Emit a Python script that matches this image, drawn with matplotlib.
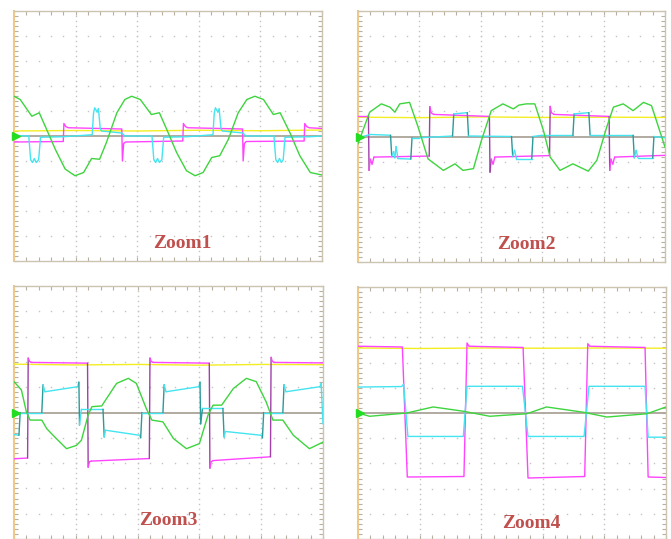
import numpy as np
import matplotlib
matplotlib.use("Agg")
from matplotlib import pyplot as plt
from matplotlib.collections import LineCollection

# scope colours
YEL = "#f2ee22"
MAG = "#ff44ff"
CYA = "#44e4f0"
GRN = "#3ed43e"
MAG_EDGE = "#a040a8"
CYA_EDGE = "#2a9a9a"

# ---- Zoom1 ----
p1_t_green = [0, 0.1, 0.29, 0.41, 0.53, 0.67, 0.83, 0.99, 1.13, 1.26, 1.39, 1.5, 1.67, 1.8, 1.91, 2.05, 2.23, 2.36,
              2.48, 2.64, 2.8, 2.94, 3.07, 3.21, 3.34, 3.48, 3.64, 3.78, 3.91, 4.05, 4.21, 4.32, 4.48, 4.64, 4.81, 5.0]
p1_v_green = [1.59, 1.46, 0.79, 0.93, 0.26, -0.53, -1.32, -1.59, -1.46, -0.9, -0.93, -0.26, 0.93, 1.46, 1.59, 1.46, 0.86, 0.93,
              0.26, -0.66, -1.39, -1.59, -1.46, -0.86, -0.79, -0.13, 0.93, 1.46, 1.59, 1.46, 0.86, 0.93, 0.13, -0.79, -1.46, -1.56]
p1_t_mag = [0, 0.80, 0.81, 0.84, 0.88, 1.75, 1.76, 1.78, 1.81, 2.74, 2.75, 2.78, 2.82, 3.71, 3.72, 3.74, 3.77, 4.71, 4.72, 4.75, 4.79, 5.0]
p1_v_mag = [-0.24, -0.22, 0.5, 0.38, 0.33, 0.28, -1.0, -0.3, -0.24, -0.2, 0.5, 0.38, 0.33, 0.28, -1.0, -0.3, -0.22, -0.2, 0.5, 0.38, 0.33, 0.3]
p1_t_cyan = [0, 0.24, 0.27, 0.30, 0.33, 0.36, 0.40, 0.43, 0.8, 1.27, 1.29, 1.31, 1.35, 1.37, 1.40, 1.42, 1.75, 1.8,
             2.24, 2.27, 2.30, 2.33, 2.36, 2.40, 2.43, 2.8, 3.23, 3.25, 3.27, 3.31, 3.33, 3.36, 3.38, 3.72, 3.76,
             4.22, 4.25, 4.28, 4.31, 4.34, 4.37, 4.40, 4.8, 5.0]
p1_v_cyan = [0.02, 0.0, -0.95, -1.06, -0.9, -1.06, -0.95, -0.05, -0.03, 0.05, 0.9, 1.13, 0.95, 1.1, 0.3, 0.2, 0.12, 0.0,
             0.0, -0.95, -1.06, -0.9, -1.06, -0.95, -0.05, -0.03, 0.05, 0.9, 1.13, 0.95, 1.1, 0.3, 0.2, 0.12, 0.0,
             0.0, -0.95, -1.06, -0.9, -1.06, -0.95, -0.05, -0.03, 0.0]
p1_t_yel = [0, 1, 2, 3, 4, 5]
p1_v_yel = [0.2, 0.22, 0.2, 0.23, 0.21, 0.24]

# ---- Zoom2 ----
p2_t_green = [0, 0.19, 0.38, 0.52, 0.6, 0.68, 0.84, 0.98, 1.14, 1.39, 1.58, 1.71, 1.88, 2.01, 2.17, 2.36, 2.53, 2.62,
              2.74, 2.88, 3.02, 3.13, 3.29, 3.5, 3.75, 3.89, 4.05, 4.16, 4.32, 4.48, 4.65, 4.78, 5.0]
p2_v_green = [-0.29, 0.97, 1.3, 1.17, 0.97, 1.3, 1.36, 0.37, -0.89, -1.35, -1.09, -1.35, -1.28, -0.16, 1.03, 1.3, 1.1, 1.25,
              1.3, 1.3, 0.24, -0.82, -1.35, -1.09, -1.38, -0.95, 0.37, 1.17, 1.3, 1.03, 1.36, 1.23, -0.42]
p2_t_mag = [0, 0.17, 0.18, 0.2, 0.23, 0.26, 1.16, 1.17, 1.19, 1.23, 2.14, 2.15, 2.17, 2.2, 2.23,
            3.12, 3.13, 3.15, 3.19, 4.09, 4.1, 4.12, 4.15, 4.18, 5.0]
p2_v_mag = [0.83, 0.83, -1.35, -0.9, -1.1, -0.82, -0.78, 1.19, 0.95, 0.88, 0.8, -1.42, -0.9, -1.1, -0.82,
            -0.76, 1.2, 0.95, 0.88, 0.8, -1.35, -0.9, -1.1, -0.82, -0.75]
p2_t_cyan = [0, 0.2, 0.53, 0.55, 0.58, 0.6, 0.62, 0.65, 0.86, 0.88, 1.0, 1.54, 1.56, 1.78, 1.80, 2.5, 2.52, 2.55,
             2.58, 2.6, 2.83, 2.85, 3.0, 3.5, 3.52, 3.76, 3.78, 4.48, 4.5, 4.53, 4.56, 4.58, 4.8, 4.82, 5.0]
p2_v_cyan = [-0.05, 0.08, 0.05, -0.8, -0.6, -0.85, -0.4, -0.88, -0.9, -0.05, -0.05, 0.02, 0.9, 0.95, 0.02, 0.0, -0.8, -0.55,
             -0.88, -0.88, -0.88, 0.0, 0.05, 0.05, 0.9, 0.95, 0.05, 0.05, -0.85, -0.55, -0.85, -0.85, -0.85, 0.0, -0.05]
p2_t_yel = [0, 1, 2, 3, 4, 5]
p2_v_yel = [0.77, 0.75, 0.78, 0.76, 0.77, 0.76]

# ---- Zoom3 ----
p3_t_green = [0, 0.12, 0.2, 0.26, 0.45, 0.53, 0.66, 0.85, 1.01, 1.09, 1.2, 1.26, 1.42, 1.5, 1.66, 1.85, 1.98, 2.14,
              2.23, 2.41, 2.58, 2.79, 3.0, 3.14, 3.22, 3.36, 3.55, 3.76, 3.92, 4.08, 4.19, 4.35, 4.52, 4.78, 5.0]
p3_v_green = [1.22, 0.89, 0.03, -0.3, -0.3, -0.64, -0.97, -1.43, -1.3, -1.1, -0.1, 0.23, 0.26, 0.56, 1.15, 1.35, 1.15, 0.16,
              -0.3, -0.37, -1.03, -1.43, -1.23, -0.1, 0.29, 0.29, 0.95, 1.35, 1.22, 0.42, -0.3, -0.3, -0.9, -1.43, -1.17]
p3_t_mag = [0, 0.22, 0.23, 0.25, 0.28, 1.19, 1.2, 1.22, 1.25, 2.19, 2.2, 2.22, 2.25, 3.16, 3.17, 3.19, 3.22,
            4.15, 4.16, 4.18, 4.21, 5.0]
p3_v_mag = [-1.83, -1.8, 2.15, 2.02, 1.98, 1.95, -2.16, -1.95, -1.92, -1.82, 2.15, 2.02, 1.98, 1.95, -2.2, -1.95, -1.9,
            -1.75, 2.18, 2.02, 1.98, 1.96]
p3_t_cyan = [0, 0.08, 0.1, 0.45, 0.47, 0.5, 1.03, 1.05, 1.06, 1.09, 1.44, 1.46, 1.48, 2.03, 2.05, 2.07, 2.41, 2.43,
             2.46, 2.99, 3.01, 3.02, 3.05, 3.38, 3.4, 3.42, 4.0, 4.02, 4.04, 4.35, 4.37, 4.4, 4.95, 4.97, 5.0]
p3_v_cyan = [-0.87, -0.9, 0.0, 0.0, 1.1, 0.82, 1.02, 1.2, -0.5, 0.13, 0.13, -0.97, -0.7, -0.9, -1.0, 0.0, 0.0, 1.1,
             0.82, 1.02, 1.2, -0.45, 0.16, 0.16, -0.97, -0.75, -0.9, -1.0, 0.0, 0.0, 1.1, 0.82, 1.02, 1.15, -0.45]
p3_t_yel = [0, 1, 2, 3, 4, 5]
p3_v_yel = [1.91, 1.88, 1.9, 1.87, 1.9, 1.89]

# ---- Zoom4 ----
p4_t_green = [0, 0.19, 0.79, 1.22, 1.71, 2.14, 2.74, 3.06, 3.66, 4.04, 4.69, 5.0]
p4_v_green = [0.0, -0.13, 0.0, 0.24, 0.07, -0.13, -0.03, 0.24, 0.03, -0.16, -0.03, 0.24]
p4_t_mag = [0, 0.72, 0.8, 1.72, 1.77, 1.8, 2.68, 2.76, 3.68, 3.73, 3.76, 4.66, 4.71, 5.0]
p4_v_mag = [2.65, 2.62, -2.54, -2.52, 2.78, 2.65, 2.6, -2.58, -2.52, 2.75, 2.65, 2.6, -2.54, -2.56]
p4_t_cyan = [0, 0.71, 0.74, 0.81, 1.71, 1.77, 2.67, 2.76, 3.67, 3.75, 4.66, 4.71, 5.0]
p4_v_cyan = [1.03, 1.05, 1.15, -0.93, -0.93, 1.06, 1.06, -0.93, -0.93, 1.06, 1.06, -0.96, -0.96]
p4_t_yel = [0, 1, 2, 3, 4, 5]
p4_v_yel = [2.58, 2.56, 2.58, 2.57, 2.58, 2.57]

labels = ["Zoom1", "Zoom2", "Zoom3", "Zoom4"]
label_pos = [(2.73, -4.3), (2.75, -4.3), (2.49, -4.28), (2.82, -4.37)]
dark_edges = [False, True, True, False]

panels = [
    (p1_t_yel, p1_v_yel, p1_t_mag, p1_v_mag, p1_t_cyan, p1_v_cyan, p1_t_green, p1_v_green),
    (p2_t_yel, p2_v_yel, p2_t_mag, p2_v_mag, p2_t_cyan, p2_v_cyan, p2_t_green, p2_v_green),
    (p3_t_yel, p3_v_yel, p3_t_mag, p3_v_mag, p3_t_cyan, p3_v_cyan, p3_t_green, p3_v_green),
    (p4_t_yel, p4_v_yel, p4_t_mag, p4_v_mag, p4_t_cyan, p4_v_cyan, p4_t_green, p4_v_green),
]


def trace(ax, t, v, col, edge_col, z):
    # fast transitions drawn darker, like the scope's dim edges
    pts = np.column_stack([t, v])
    segs = np.stack([pts[:-1], pts[1:]], axis=1)
    cols = []
    for s in segs:
        dt = abs(s[1, 0] - s[0, 0])
        dv = abs(s[1, 1] - s[0, 1])
        cols.append(edge_col if (dt < 0.03 and dv > 0.5) else col)
    ax.add_collection(LineCollection(segs, colors=cols, linewidths=1.0, zorder=z, capstyle="round"))


# axes boxes in pixels (left, top, right, bottom) of a 671x539 picture
W, H = 671, 539
boxes = [(14, 11, 322, 261), (358, 11, 665, 262), (14, 286, 323, 539), (358, 287, 666, 539)]

fig = plt.figure(figsize=(W / 100, H / 100), dpi=100)

for i, (box, data) in enumerate(zip(boxes, panels)):
    l, t, r, b = box
    ax = fig.add_axes([l / W, 1 - b / H, (r - l) / W, (b - t) / H])
    ax.set_xlim(0, 5)
    ax.set_ylim(-5, 5)

    # dotted graticule
    xs = np.arange(0.2, 5.0, 0.2)
    ys = np.arange(-4.8, 5.0, 0.2)
    for gy in [-4, -3, -2, -1, 1, 2, 3, 4]:
        ax.plot(xs, np.full(len(xs), gy), ls="none", marker="s", ms=1.0, mew=0, color="#c4c4c4", zorder=1)
    for gx in [1, 2, 3, 4]:
        ax.plot(np.full(len(ys), gx), ys, ls="none", marker="s", ms=1.0, mew=0, color="#c4c4c4", zorder=1)
    ax.axhline(0, color="#aaa49a", lw=1.3, zorder=2)

    ty, vy, tm, vm, tc, vc, tg, vg = data
    ax.plot(ty, vy, color=YEL, lw=1.0, zorder=3)
    if dark_edges[i]:
        trace(ax, tm, vm, MAG, MAG_EDGE, 4)
        trace(ax, tc, vc, CYA, CYA_EDGE, 5)
    else:
        ax.plot(tm, vm, color=MAG, lw=1.0, zorder=4)
        ax.plot(tc, vc, color=CYA, lw=1.0, zorder=5)
    ax.plot(tg, vg, color=GRN, lw=1.0, zorder=6)

    # ground marker
    ax.plot([0.04], [0], marker=">", ms=6, color="#22dd22", clip_on=False, zorder=7)

    ax.text(label_pos[i][0], label_pos[i][1], labels[i], fontsize=14, fontweight="bold",
            family="Liberation Serif", color="#c0504d", ha="center", va="center", zorder=8)

    ax.set_xticks(np.arange(0, 5.01, 0.2))
    ax.set_yticks(np.arange(-5, 5.01, 0.2))
    ax.tick_params(direction="in", length=3, width=0.8, color="#b8b0a0",
                   top=True, right=True, labelbottom=False, labelleft=False)
    for s in ["top", "right", "bottom"]:
        ax.spines[s].set_color("#ccc4b0")
        ax.spines[s].set_linewidth(1.0)
    ax.spines["left"].set_color("#f0c88a")
    ax.spines["left"].set_linewidth(1.5)

plt.savefig("out.png", dpi=100)
